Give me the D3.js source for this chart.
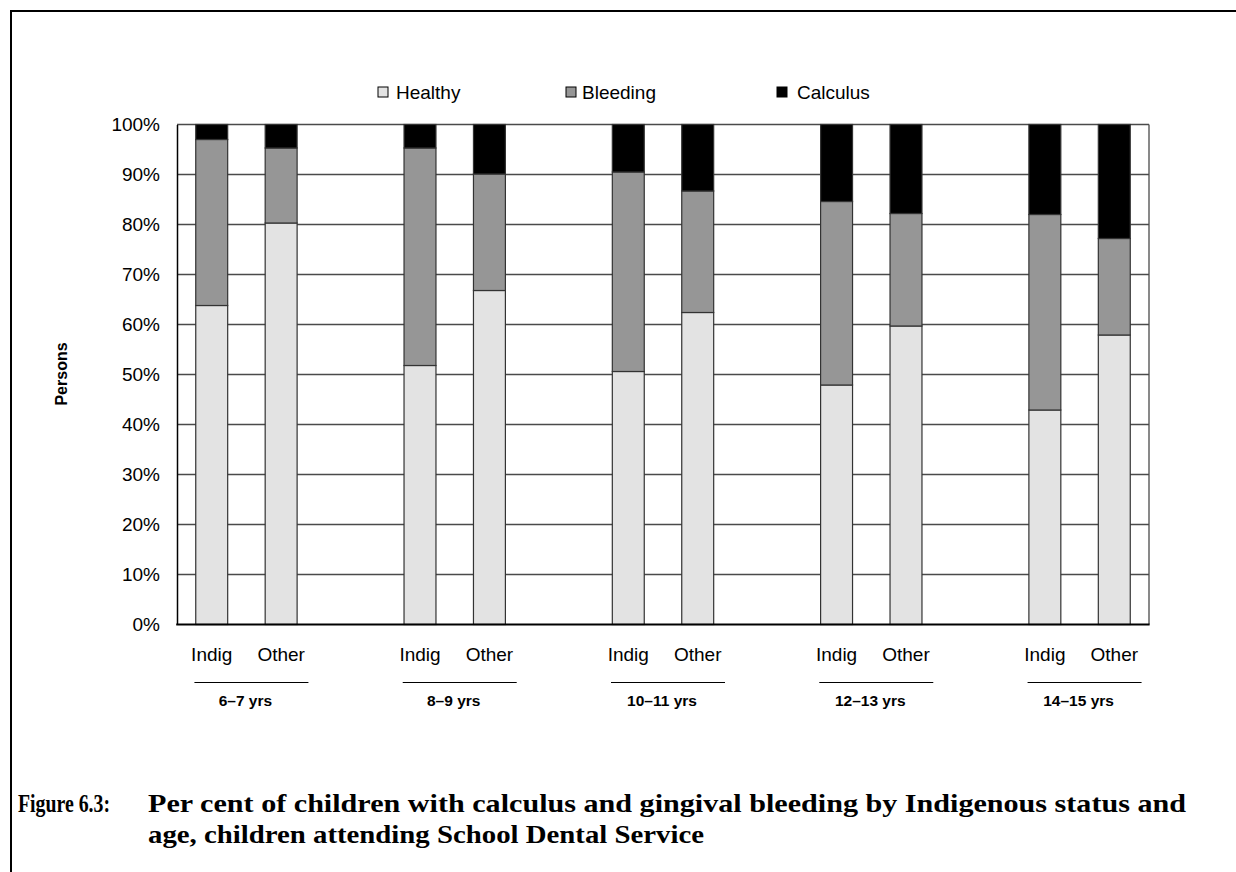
<!DOCTYPE html>
<html>
<head>
<meta charset="utf-8">
<script src="https://cdn.jsdelivr.net/npm/d3@7"></script>
<style>
  html, body { margin: 0; padding: 0; background: #fff; overflow: hidden; }
  svg { display: block; }
</style>
</head>
<body>
<svg id="chart" width="1236" height="872"></svg>
<script>
// Age groups and Indigenous status of the children
const ageGroups = ["6–7 yrs", "8–9 yrs", "10–11 yrs", "12–13 yrs", "14–15 yrs"];
const statuses = ["Indig", "Other"];

// Per cent of children in each condition, ordered age group by age group, Indig then Other
const healthy  = [63.8, 80.3, 51.8, 66.8, 50.6, 62.4, 47.9, 59.7, 42.9, 57.9];
const bleeding = [33.2, 15.0, 43.5, 23.3, 39.9, 24.3, 36.7, 22.5, 39.1, 19.3];
const calculus = [3.0, 4.7, 4.7, 9.9, 9.5, 13.3, 15.4, 17.8, 18.0, 22.8];

const seriesNames = ["Healthy", "Bleeding", "Calculus"];
const seriesColors = ["#e3e3e3", "#969696", "#000000"];
const yTicks = [0, 10, 20, 30, 40, 50, 60, 70, 80, 90, 100];

const caption = {
  label: "Figure 6.3:",
  line1: "Per cent of children with calculus and gingival bleeding by Indigenous status and",
  line2: "age, children attending School Dental Service"
};

// Build rows for the stack; an empty slot separates each age group
const rows = [];
ageGroups.forEach((age, gi) => {
  statuses.forEach((st, si) => {
    const k = gi * statuses.length + si;
    rows.push({ key: age + "|" + st, age, status: st,
      Healthy: healthy[k], Bleeding: bleeding[k], Calculus: calculus[k] });
  });
});
const slots = [];
ageGroups.forEach((age, gi) => {
  statuses.forEach(st => slots.push(age + "|" + st));
  if (gi < ageGroups.length - 1) slots.push("gap" + gi);
});

const svg = d3.select("#chart");
const font = "'Liberation Sans', Arial, sans-serif";

// Outer frame (top and left edges fall inside the page)
svg.append("path")
  .attr("d", "M11,880 V11 H1240")
  .attr("fill", "none").attr("stroke", "#000").attr("stroke-width", 2);

const plot = { left: 177, right: 1149, top: 124.5, bottom: 624.5 };

const x = d3.scaleBand()
  .domain(slots)
  .range([plot.left, plot.right])
  .paddingInner(0.54)
  .paddingOuter(0.27);

const y = d3.scaleLinear().domain([0, 100]).range([plot.bottom, plot.top]);

// Gridlines
svg.append("g")
  .selectAll("line")
  .data(yTicks.filter(t => t > 0))
  .join("line")
  .attr("x1", plot.left).attr("x2", plot.right)
  .attr("y1", d => y(d)).attr("y2", d => y(d))
  .attr("stroke", "#4a4a4a").attr("stroke-width", 1.3);

// Right border of the plot area
svg.append("line")
  .attr("x1", plot.right).attr("x2", plot.right)
  .attr("y1", plot.top).attr("y2", plot.bottom)
  .attr("stroke", "#4a4a4a").attr("stroke-width", 1.3);

// Stacked bars
const stack = d3.stack().keys(seriesNames);
const stacked = stack(rows);

svg.append("g")
  .selectAll("g")
  .data(stacked)
  .join("g")
  .attr("fill", (d, i) => seriesColors[i])
  .selectAll("rect")
  .data(d => d)
  .join("rect")
  .attr("x", d => x(d.data.key))
  .attr("width", x.bandwidth())
  .attr("y", d => y(d[1]))
  .attr("height", d => y(d[0]) - y(d[1]))
  .attr("stroke", "#333")
  .attr("stroke-width", 1.2);

// Y axis
const yAxis = d3.axisLeft(y)
  .tickValues(yTicks)
  .tickFormat(d => d + "%")
  .tickSize(0)
  .tickPadding(17);

const yg = svg.append("g")
  .attr("transform", `translate(${plot.left},0)`)
  .call(yAxis);
yg.select(".domain").attr("stroke", "#000").attr("stroke-width", 1.5);
yg.selectAll("text")
  .attr("font-family", font).attr("font-size", 19).attr("fill", "#000");

// X axis line
svg.append("line")
  .attr("x1", plot.left - 0.75).attr("x2", plot.right + 0.6)
  .attr("y1", plot.bottom).attr("y2", plot.bottom)
  .attr("stroke", "#000").attr("stroke-width", 2);

// Status labels under each bar
svg.append("g")
  .selectAll("text")
  .data(rows)
  .join("text")
  .attr("x", d => x(d.key) + x.bandwidth() / 2)
  .attr("y", 661)
  .attr("text-anchor", "middle")
  .attr("font-family", font).attr("font-size", 19)
  .text(d => d.status);

// Age group rules and labels
const groupCenter = age => {
  const a = x(age + "|" + statuses[0]);
  const b = x(age + "|" + statuses[statuses.length - 1]) + x.bandwidth();
  return (a + b) / 2;
};
const grp = svg.append("g");
grp.selectAll("line")
  .data(ageGroups)
  .join("line")
  .attr("x1", d => groupCenter(d) - 52).attr("x2", d => groupCenter(d) + 62)
  .attr("y1", 682.5).attr("y2", 682.5)
  .attr("stroke", "#000").attr("stroke-width", 1);
grp.selectAll("text")
  .data(ageGroups)
  .join("text")
  .attr("x", d => groupCenter(d) - 1)
  .attr("y", 706)
  .attr("text-anchor", "middle")
  .attr("font-family", font).attr("font-size", 15.5).attr("font-weight", "bold")
  .text(d => d);

// Y axis title
svg.append("text")
  .attr("transform", "translate(67,374) rotate(-90)")
  .attr("text-anchor", "middle")
  .attr("font-family", font).attr("font-size", 16).attr("font-weight", "bold")
  .text("Persons");

// Legend
const legendX = [378, 566, 777];
const legendTextX = [396, 582, 797];
const lg = svg.append("g");
seriesNames.forEach((name, i) => {
  lg.append("rect")
    .attr("x", legendX[i]).attr("y", 87)
    .attr("width", 10).attr("height", 10)
    .attr("fill", seriesColors[i]).attr("stroke", "#000").attr("stroke-width", 1);
  lg.append("text")
    .attr("x", legendTextX[i]).attr("y", 98.5)
    .attr("font-family", font).attr("font-size", 19)
    .text(name);
});

// Caption
const capFont = "'Liberation Serif', 'DejaVu Serif', serif";
const cap = svg.append("g")
  .attr("font-family", capFont).attr("font-weight", "bold").attr("font-size", 26);
cap.append("text").attr("x", 18).attr("y", 812)
  .attr("textLength", 92).attr("lengthAdjust", "spacingAndGlyphs")
  .text(caption.label);
cap.append("text").attr("x", 148).attr("y", 812)
  .attr("textLength", 1038).attr("lengthAdjust", "spacingAndGlyphs")
  .text(caption.line1);
cap.append("text").attr("x", 148).attr("y", 843)
  .attr("textLength", 556).attr("lengthAdjust", "spacingAndGlyphs")
  .text(caption.line2);
</script>
</body>
</html>
